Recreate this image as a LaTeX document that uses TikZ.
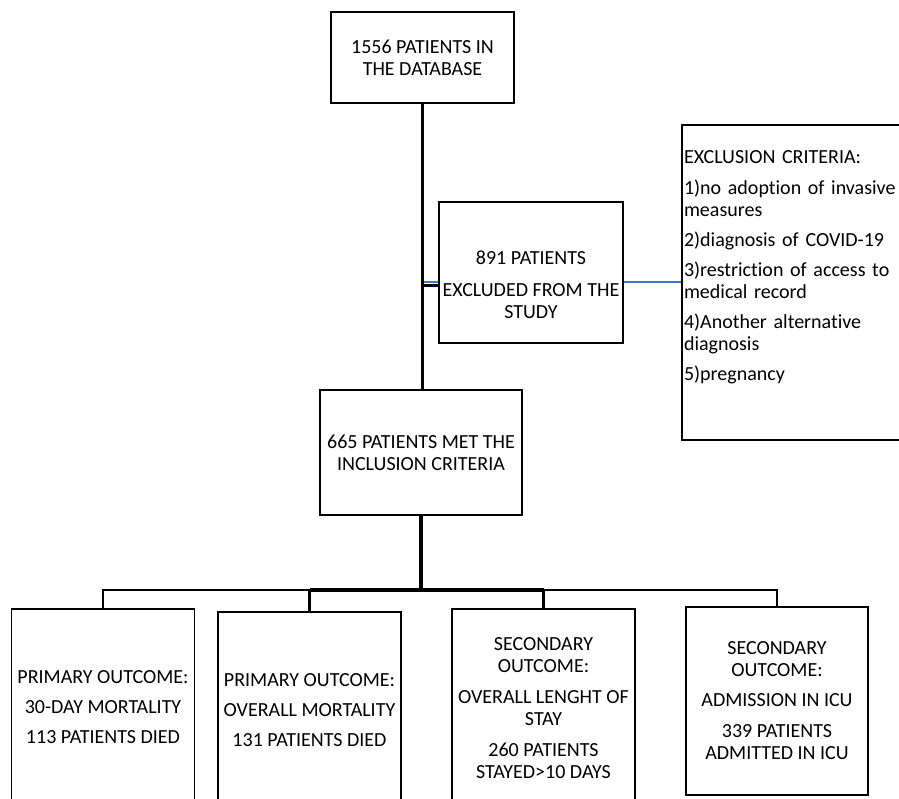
\documentclass[tikz,border=0pt]{standalone}
\usepackage{fontspec}
\setmainfont{Carlito}[Ligatures=NoCommon]
\definecolor{linkblue}{RGB}{68,114,196}

\begin{document}
\begin{tikzpicture}[x=1pt,y=-1pt,
  every node/.style={font=\fontsize{20}{22}\selectfont},
  box/.style={draw,line width=1.5pt,inner sep=2pt,align=center},
  outbox/.style={box,minimum width=183pt,minimum height=196pt},
  trunk/.style={line width=3.5pt},
  branch/.style={line width=2.5pt},
  blueline/.style={linkblue,line width=1.5pt}]
  \useasboundingbox (0,0) rectangle (899,799);
  % top of the chart
  \node[box,minimum width=183pt,minimum height=91pt] (db) at (422.5,57.5) {1556 PATIENTS IN\\THE DATABASE};
  \node[box,minimum width=184pt,minimum height=141pt] (excl) at (531,272.5) {\rule{0pt}{38pt}891 PATIENTS\\[10pt]EXCLUDED FROM THE\\STUDY};
  \node[box,inner xsep=2pt,text width=236pt,minimum height=315pt,align=left] (crit) at (802,282.5)
    {EXCLUSION CRITERIA:\\[9pt]1)no adoption of invasive\\measures\\[8pt]2)diagnosis of COVID-19\\[8pt]3)restriction of access to\\medical record\\[8pt]4)Another alternative\\diagnosis\\[8pt]5)pregnancy\rule[-33pt]{0pt}{33pt}};
  \node[box,minimum width=202pt,minimum height=125pt] (incl) at (421,452.5) {665 PATIENTS MET THE\\INCLUSION CRITERIA};
  % outcomes
  \node[outbox] (o1) at (103,707) {PRIMARY OUTCOME:\\[8pt]30-DAY MORTALITY\\[8pt]113 PATIENTS DIED};
  \node[outbox] (o2) at (309.5,710) {PRIMARY OUTCOME:\\[8pt]OVERALL MORTALITY\\[8pt]131 PATIENTS DIED};
  \node[outbox,minimum height=198pt] (o3) at (543.5,708) {SECONDARY\\OUTCOME:\\[9pt]OVERALL LENGHT OF\\STAY\\[9pt]260 PATIENTS\\STAYED>10 DAYS};
  \node[outbox,minimum width=182pt,minimum height=188pt] (o4) at (777,701) {SECONDARY\\OUTCOME:\\[8pt]ADMISSION IN ICU\\[9pt]339 PATIENTS\\ADMITTED IN ICU};
  % connectors
  \coordinate (j) at (422,285.5);
  \coordinate (jb) at (424,282);
  \coordinate (bar) at (422,590);
  \draw[trunk] (db.south) -- (db.south |- incl.north);
  \draw[trunk] (j) -- (j -| excl.west);
  \draw[blueline] (jb) -- (jb -| excl.west);
  \draw[blueline] (jb -| excl.east) -- (jb -| crit.west);
  \draw[trunk] (incl.south) -- (incl.south |- bar);
  \draw[trunk] (o2 |- bar) -- (o3 |- bar);
  \draw[branch] (o1.north) |- (o2 |- bar);
  \draw[branch] (o2.north) -- (o2 |- bar);
  \draw[branch] (o3.north) -- (o3 |- bar);
  \draw[branch] (o4.north) |- (o3 |- bar);
\end{tikzpicture}
\end{document}
